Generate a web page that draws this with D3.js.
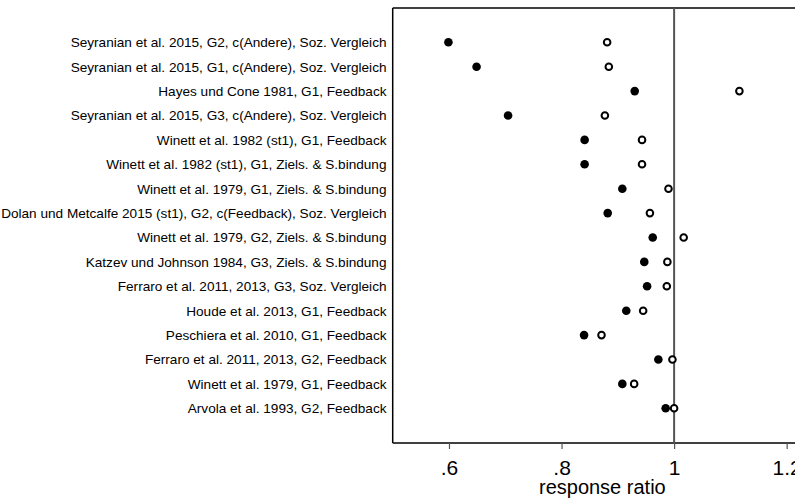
<!DOCTYPE html>
<html>
<head>
<meta charset="utf-8">
<script src="https://cdn.jsdelivr.net/npm/d3@7"></script>
<style>
  body { margin: 0; background: #fff; }
  svg { display: block; }
</style>
</head>
<body>
<svg id="chart" width="795" height="502"></svg>
<script>
// studies, top to bottom
let studies = [
  "Seyranian et al. 2015, G2, c(Andere), Soz. Vergleich",
  "Seyranian et al. 2015, G1, c(Andere), Soz. Vergleich",
  "Hayes und Cone 1981, G1, Feedback",
  "Seyranian et al. 2015, G3, c(Andere), Soz. Vergleich",
  "Winett et al. 1982 (st1), G1, Feedback",
  "Winett et al. 1982 (st1), G1, Ziels. & S.bindung",
  "Winett et al. 1979, G1, Ziels. & S.bindung",
  "Dolan und Metcalfe 2015 (st1), G2, c(Feedback), Soz. Vergleich",
  "Winett et al. 1979, G2, Ziels. & S.bindung",
  "Katzev und Johnson 1984, G3, Ziels. & S.bindung",
  "Ferraro et al. 2011, 2013, G3, Soz. Vergleich",
  "Houde et al. 2013, G1, Feedback",
  "Peschiera et al. 2010, G1, Feedback",
  "Ferraro et al. 2011, 2013, G2, Feedback",
  "Winett et al. 1979, G1, Feedback",
  "Arvola et al. 1993, G2, Feedback"
];
let filledValues = [0.599, 0.649, 0.930, 0.705, 0.841, 0.841, 0.908, 0.882,
                    0.962, 0.947, 0.952, 0.915, 0.840, 0.972, 0.908, 0.985];
let openValues = [0.881, 0.884, 1.116, 0.877, 0.943, 0.943, 0.990, 0.957,
                  1.017, 0.988, 0.987, 0.945, 0.871, 0.997, 0.929, 1.000];
let tickValues = [0.6, 0.8, 1, 1.2];
let tickLabels = [".6", ".8", "1", "1.2"];

let svg = d3.select("#chart");
let plotLeft = 392.7, plotRight = 812, plotTop = 8, plotBottom = 443;

let x = d3.scaleLinear().domain([0.5, 1.245]).range([plotLeft, plotRight]);
let y = d3.scalePoint().domain(d3.range(studies.length)).range([42.3, 408.3]);

// frame (top + left), bottom axis
svg.append("line").attr("x1", plotLeft).attr("x2", 800).attr("y1", plotTop).attr("y2", plotTop)
  .attr("stroke", "#000").attr("stroke-width", 1.5);
svg.append("line").attr("x1", plotLeft).attr("x2", plotLeft).attr("y1", plotTop).attr("y2", plotBottom)
  .attr("stroke", "#000").attr("stroke-width", 1.5);

let xAxis = d3.axisBottom(x)
  .tickValues(tickValues)
  .tickSize(6)
  .tickPadding(4)
  .tickFormat(function(d, i) { return tickLabels[i]; });

let gx = svg.append("g").attr("transform", "translate(0," + plotBottom + ")").call(xAxis);
gx.select(".domain").attr("stroke", "#000").attr("stroke-width", 1.5)
  .attr("d", "M" + plotLeft + ",0H800");
gx.selectAll(".tick line").attr("stroke", "#555").attr("stroke-width", 1.2);
gx.selectAll(".tick text")
  .attr("font-family", "Liberation Sans, Arial, sans-serif")
  .attr("font-size", 21)
  .attr("fill", "#000")
  .attr("dy", "1.04em");

svg.append("text")
  .attr("x", (plotLeft + plotRight) / 2)
  .attr("y", 494)
  .attr("text-anchor", "middle")
  .attr("font-family", "Liberation Sans, Arial, sans-serif")
  .attr("font-size", 20)
  .text("response ratio");

// reference line at 1
svg.append("line")
  .attr("x1", x(1)).attr("x2", x(1))
  .attr("y1", plotTop).attr("y2", plotBottom)
  .attr("stroke", "#555").attr("stroke-width", 2);

// study labels
svg.append("g").selectAll("text")
  .data(studies)
  .enter()
  .append("text")
  .attr("x", 386.5)
  .attr("y", function(d, i) { return y(i); })
  .attr("dy", "0.36em")
  .attr("text-anchor", "end")
  .attr("font-family", "Liberation Sans, Arial, sans-serif")
  .attr("font-size", 13.6)
  .text(function(d) { return d; });

// filled markers
svg.append("g").selectAll("circle")
  .data(filledValues)
  .enter()
  .append("circle")
  .attr("cx", function(d) { return x(d); })
  .attr("cy", function(d, i) { return y(i); })
  .attr("r", 4.3)
  .attr("fill", "#000");

// open markers
svg.append("g").selectAll("circle")
  .data(openValues)
  .enter()
  .append("circle")
  .attr("cx", function(d) { return x(d); })
  .attr("cy", function(d, i) { return y(i); })
  .attr("r", 3.3)
  .attr("fill", "#fff")
  .attr("stroke", "#000")
  .attr("stroke-width", 2);
</script>
</body>
</html>
